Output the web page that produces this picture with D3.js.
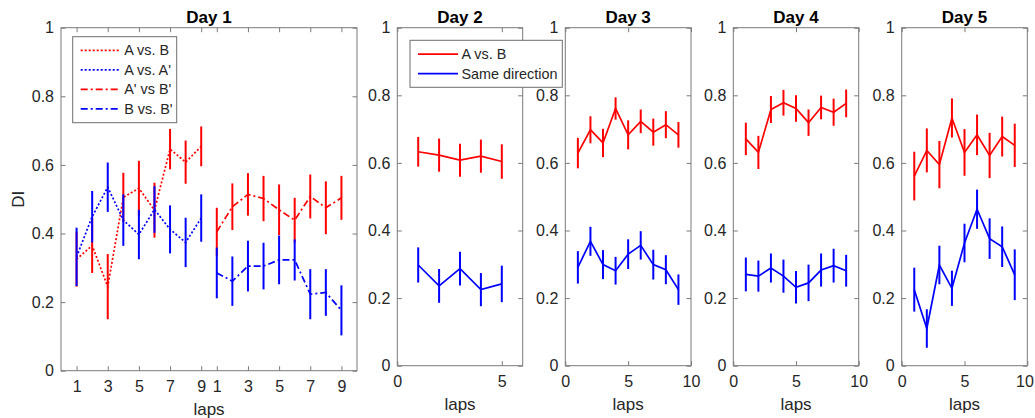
<!DOCTYPE html>
<html>
<head>
<meta charset="utf-8">
<script src="https://cdn.jsdelivr.net/npm/d3@7"></script>
<style>
  body { margin: 0; background: #fff; }
  svg { display: block; font-family: "Liberation Sans", Arial, Helvetica, sans-serif; }
</style>
</head>
<body>
<svg id="chart" width="1035" height="418"></svg>
<script>
// ---- data: discrimination index (DI) per lap, mean and error ----
const laps9 = [1, 2, 3, 4, 5, 6, 7, 8, 9];
const laps5 = [1, 2, 3, 4, 5];

// Day 1, first block (laps 1-9)
const day1AvsB      = [0.325, 0.365, 0.245, 0.505, 0.532, 0.468, 0.646, 0.608, 0.654];
const day1AvsBErr   = [0.080, 0.080, 0.095, 0.072, 0.080, 0.080, 0.059, 0.063, 0.058];
const day1AvsA2     = [0.332, 0.449, 0.535, 0.439, 0.397, 0.470, 0.412, 0.374, 0.445];
const day1AvsA2Err  = [0.085, 0.075, 0.072, 0.075, 0.072, 0.068, 0.070, 0.072, 0.069];
// Day 1, second block (laps 1-9 again)
const day1A2vsB2    = [0.405, 0.478, 0.514, 0.502, 0.469, 0.439, 0.508, 0.475, 0.504];
const day1A2vsB2Err = [0.070, 0.068, 0.062, 0.066, 0.074, 0.065, 0.064, 0.077, 0.064];
const day1BvsB2     = [0.285, 0.261, 0.305, 0.305, 0.323, 0.323, 0.223, 0.228, 0.176];
const day1BvsB2Err  = [0.074, 0.072, 0.074, 0.068, 0.071, 0.060, 0.073, 0.068, 0.073];
const day1TickLaps   = [1, 3, 5, 7, 9, 10, 12, 14, 16, 18];
const day1TickLabels = ["1", "3", "5", "7", "9", "1", "3", "5", "7", "9"];

// Days 2-5: A vs. B and same direction
const day2AvsB    = [0.633, 0.623, 0.608, 0.620, 0.604];
const day2AvsBErr = [0.044, 0.049, 0.049, 0.049, 0.051];
const day2Same    = [0.298, 0.236, 0.287, 0.225, 0.242];
const day2SameErr = [0.052, 0.050, 0.050, 0.049, 0.054];

const day3AvsB    = [0.629, 0.698, 0.659, 0.761, 0.683, 0.723, 0.691, 0.713, 0.683];
const day3AvsBErr = [0.045, 0.040, 0.042, 0.033, 0.043, 0.035, 0.040, 0.040, 0.038];
const day3Same    = [0.291, 0.368, 0.299, 0.281, 0.330, 0.356, 0.299, 0.284, 0.225];
const day3SameErr = [0.048, 0.043, 0.043, 0.041, 0.044, 0.042, 0.044, 0.043, 0.045];

const day4AvsB    = [0.671, 0.631, 0.758, 0.778, 0.761, 0.719, 0.764, 0.750, 0.776];
const day4AvsBErr = [0.048, 0.049, 0.040, 0.038, 0.039, 0.039, 0.035, 0.040, 0.041];
const day4Same    = [0.270, 0.265, 0.289, 0.265, 0.232, 0.245, 0.283, 0.296, 0.281];
const day4SameErr = [0.050, 0.046, 0.043, 0.049, 0.048, 0.054, 0.049, 0.050, 0.047];

const day5AvsB    = [0.561, 0.637, 0.595, 0.733, 0.631, 0.683, 0.622, 0.678, 0.652];
const day5AvsBErr = [0.072, 0.065, 0.070, 0.058, 0.069, 0.060, 0.067, 0.059, 0.064];
const day5Same    = [0.225, 0.110, 0.298, 0.229, 0.363, 0.463, 0.376, 0.352, 0.269];
const day5SameErr = [0.065, 0.057, 0.057, 0.052, 0.057, 0.058, 0.060, 0.060, 0.075];

const yTicks = [0, 0.2, 0.4, 0.6, 0.8, 1];
const yTickLabels = ["0", "0.2", "0.4", "0.6", "0.8", "1"];

// ---- styling ----
const RED = "#ff0000", BLUE = "#0000ff";
const AXIS = "#7a7a7a", TEXT = "#262626";
const DOTTED = "2,2", DASHDOT = "7,3,2,3";
const W = 1035;

const svg = d3.select("#chart");

// panel frames (left, right, top, bottom in px)
const panels = [
  { title: "Day 1", l: 61,    r: 357,    t: 27.7, b: 370.7, xDomain: [0, 19] },
  { title: "Day 2", l: 397.3, r: 522.7,  t: 27.7, b: 365.7, xDomain: [0, 6]  },
  { title: "Day 3", l: 565.3, r: 691,    t: 27.7, b: 365.7, xDomain: [0, 10] },
  { title: "Day 4", l: 733.3, r: 858.7,  t: 27.7, b: 365.7, xDomain: [0, 10] },
  { title: "Day 5", l: 901.7, r: 1027.3, t: 27.7, b: 365.7, xDomain: [0, 10] }
];

function makePanel(p, xTicks, xLabels) {
  const x = d3.scaleLinear().domain(p.xDomain).range([p.l, p.r]);
  const y = d3.scaleLinear().domain([0, 1]).range([p.b, p.t]);
  const g = svg.append("g");
  const tl = 4.5;

  // y ticks (left and mirrored right), pointing inward
  const yAxisL = d3.axisLeft(y).tickValues(yTicks).tickFormat((d, i) => yTickLabels[i])
    .tickSizeInner(-tl).tickSizeOuter(0).tickPadding(7);
  const ga = g.append("g").attr("transform", `translate(${p.l},0)`).call(yAxisL);
  ga.select(".domain").remove();
  ga.selectAll("line").attr("stroke", AXIS);
  ga.selectAll("text").attr("fill", TEXT).style("font-size", "16px");

  const yAxisR = d3.axisRight(y).tickValues(yTicks).tickFormat("").tickSizeInner(-tl).tickSizeOuter(0);
  const gr = g.append("g").attr("transform", `translate(${p.r},0)`).call(yAxisR);
  gr.select(".domain").remove();
  gr.selectAll("line").attr("stroke", AXIS);

  // x ticks (bottom and mirrored top)
  const xAxisB = d3.axisBottom(x).tickValues(xTicks).tickFormat((d, i) => xLabels[i])
    .tickSizeInner(-tl).tickSizeOuter(0).tickPadding(10);
  const gb = g.append("g").attr("transform", `translate(0,${p.b})`).call(xAxisB);
  gb.select(".domain").remove();
  gb.selectAll("line").attr("stroke", AXIS);
  gb.selectAll("text").attr("fill", TEXT).style("font-size", "16px");
  // keep labels at the right edge inside the canvas
  gb.selectAll(".tick").each(function () {
    const t = d3.select(this).select("text");
    const bb = this.getBBox();
    const m = this.getCTM();
    const right = m.e + bb.x + bb.width;
    if (right > W - 1) t.attr("dx", (W - 1 - right) + "px");
  });

  const xAxisT = d3.axisTop(x).tickValues(xTicks).tickFormat("").tickSizeInner(-tl).tickSizeOuter(0);
  const gt = g.append("g").attr("transform", `translate(0,${p.t})`).call(xAxisT);
  gt.select(".domain").remove();
  gt.selectAll("line").attr("stroke", AXIS);

  // frame
  g.append("rect").attr("x", p.l).attr("y", p.t).attr("width", p.r - p.l).attr("height", p.b - p.t)
    .attr("fill", "none").attr("stroke", AXIS).attr("stroke-width", 1);

  // title and x label
  g.append("text").attr("x", (p.l + p.r) / 2).attr("y", p.t - 5).attr("text-anchor", "middle")
    .attr("fill", "#000").style("font-size", "17px").style("font-weight", "bold").text(p.title);
  g.append("text").attr("x", (p.l + p.r) / 2).attr("y", p.b + 44).attr("text-anchor", "middle")
    .attr("fill", TEXT).style("font-size", "17px").text("laps");

  return { g, x, y };
}

function drawSeries(ax, laps, offset, vals, errs, color, dash) {
  const pts = laps.map((l, i) => ({ x: l + offset, v: vals[i], e: errs[i] }));
  const line = d3.line().x(d => ax.x(d.x)).y(d => ax.y(d.v));
  ax.g.append("path").datum(pts).attr("d", line).attr("fill", "none")
    .attr("stroke", color).attr("stroke-width", 1.7)
    .attr("stroke-dasharray", dash || null);
  ax.g.selectAll(null).data(pts).enter().append("line")
    .attr("x1", d => ax.x(d.x)).attr("x2", d => ax.x(d.x))
    .attr("y1", d => ax.y(d.v - d.e)).attr("y2", d => ax.y(d.v + d.e))
    .attr("stroke", color).attr("stroke-width", 2);
}

function drawLegend(lx, ly, w, rowH, entries) {
  const h = rowH * entries.length + 8;
  const g = svg.append("g");
  g.append("rect").attr("x", lx).attr("y", ly).attr("width", w).attr("height", h)
    .attr("fill", "#fff").attr("stroke", "#6e6e6e").attr("stroke-width", 1);
  entries.forEach((e, i) => {
    const cy = ly + 4 + rowH * (i + 0.5);
    g.append("line").attr("x1", lx + 8).attr("x2", lx + 48).attr("y1", cy).attr("y2", cy)
      .attr("stroke", e.color).attr("stroke-width", 1.8).attr("stroke-dasharray", e.dash || null);
    g.append("text").attr("x", lx + 51.5).attr("y", cy).attr("dy", "0.35em")
      .attr("fill", TEXT).style("font-size", "14.4px").text(e.label);
  });
}

// ---- Day 1 ----
const a1 = makePanel(panels[0], day1TickLaps, day1TickLabels);
drawSeries(a1, laps9, 0, day1AvsB, day1AvsBErr, RED, DOTTED);
drawSeries(a1, laps9, 0, day1AvsA2, day1AvsA2Err, BLUE, DOTTED);
drawSeries(a1, laps9, 9, day1A2vsB2, day1A2vsB2Err, RED, DASHDOT);
drawSeries(a1, laps9, 9, day1BvsB2, day1BvsB2Err, BLUE, DASHDOT);

svg.append("text").attr("transform", `translate(24,${(panels[0].t + panels[0].b) / 2}) rotate(-90)`)
  .attr("text-anchor", "middle").attr("fill", TEXT).style("font-size", "17px").text("DI");

// ---- Days 2-5 ----
const a2 = makePanel(panels[1], [0, 5], ["0", "5"]);
drawSeries(a2, laps5, 0, day2AvsB, day2AvsBErr, RED);
drawSeries(a2, laps5, 0, day2Same, day2SameErr, BLUE);

const a3 = makePanel(panels[2], [0, 5, 10], ["0", "5", "10"]);
drawSeries(a3, laps9, 0, day3AvsB, day3AvsBErr, RED);
drawSeries(a3, laps9, 0, day3Same, day3SameErr, BLUE);

const a4 = makePanel(panels[3], [0, 5, 10], ["0", "5", "10"]);
drawSeries(a4, laps9, 0, day4AvsB, day4AvsBErr, RED);
drawSeries(a4, laps9, 0, day4Same, day4SameErr, BLUE);

const a5 = makePanel(panels[4], [0, 5, 10], ["0", "5", "10"]);
drawSeries(a5, laps9, 0, day5AvsB, day5AvsBErr, RED);
drawSeries(a5, laps9, 0, day5Same, day5SameErr, BLUE);

// ---- legends ----
drawLegend(72.7, 36.7, 104, 19.5, [
  { label: "A vs. B",  color: RED,  dash: DOTTED },
  { label: "A vs. A'", color: BLUE, dash: DOTTED },
  { label: "A' vs B'", color: RED,  dash: DASHDOT },
  { label: "B vs. B'", color: BLUE, dash: DASHDOT }
]);
drawLegend(410, 40.3, 152.3, 19.5, [
  { label: "A vs. B",        color: RED },
  { label: "Same direction", color: BLUE }
]);
</script>
</body>
</html>
